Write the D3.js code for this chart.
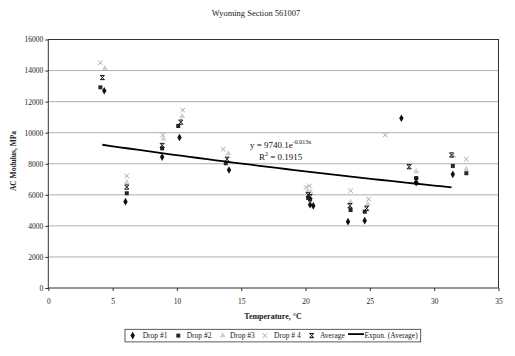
<!DOCTYPE html>
<html><head><meta charset="utf-8">
<script src="https://cdn.jsdelivr.net/npm/d3@7"></script>
<style>body{margin:0;background:#fff}svg{display:block}text{font-family:"Liberation Serif","Times New Roman",serif}</style>
</head><body><svg id="c" width="515" height="356"></svg>
<script>
// ---- data (temperature °C, modulus MPa) ----
const drop1T = [4.35, 6.0, 8.85, 10.2, 14.05, 20.35, 20.6, 23.3, 24.6, 27.45, 28.6, 31.45];
const drop1V = [12700, 5560, 8430, 9690, 7600, 5360, 5290, 4270, 4335, 10930, 6780, 7320];
const drop2T = [4.05, 6.1, 8.85, 10.1, 13.8, 20.2, 20.35, 23.5, 24.6, 28.6, 31.45, 32.5];
const drop2V = [12920, 6100, 8990, 10430, 8030, 5800, 5700, 5020, 4910, 7080, 7860, 7390];
const drop3T = [4.4, 6.1, 8.95, 10.4, 14.0, 20.15, 20.4, 23.5, 24.85, 28.6, 31.5, 32.5];
const drop3V = [14150, 6800, 9600, 11050, 8650, 6250, 6200, 5550, 5400, 7500, 8500, 7650];
const drop4T = [4.05, 6.1, 8.9, 10.45, 13.6, 20.05, 20.3, 23.5, 24.9, 26.2, 32.5];
const drop4V = [14500, 7220, 9850, 11450, 8930, 6480, 6570, 6265, 5720, 9850, 8290];
const avgT = [4.2, 6.1, 8.85, 10.3, 13.9, 20.2, 20.35, 23.45, 24.75, 28.05, 28.6, 31.35];
const avgV = [13550, 6500, 9180, 10680, 8290, 6000, 5880, 5300, 5130, 7810, 6950, 8565];
// exponential trend of Average: y = a * e^(b x)
const trendA = 9740.1, trendB = -0.013;
const xTicks = [0, 5, 10, 15, 20, 25, 30, 35];
const yTicks = [0, 2000, 4000, 6000, 8000, 10000, 12000, 14000, 16000];
const legendLabels = ["Drop #1", "Drop #2", "Drop #3", "Drop # 4", "Average", "Expon. (Average)"];
const titleText = "Wyoming Section 561007";

const svg = d3.select("#c");
const L = 48.3, R = 498.5, T = 39.5, B = 288;
const x = d3.scaleLinear().domain([0, 35]).range([L, R]);
const y = d3.scaleLinear().domain([0, 16000]).range([B, T]);

svg.append("text").attr("x", 256).attr("y", 16).attr("text-anchor", "middle")
  .attr("font-size", 8.5).attr("fill", "#222").text(titleText);

// gridlines
svg.append("g").selectAll("line").data(yTicks.slice(1)).join("line")
  .attr("x1", L).attr("x2", R).attr("y1", d => y(d)).attr("y2", d => y(d))
  .attr("stroke", "#9a9a9a").attr("stroke-width", 0.8);

// axes
const ya = svg.append("g").attr("transform", `translate(${L},0)`)
  .call(d3.axisLeft(y).tickValues(yTicks).tickFormat(d3.format("d")).tickSize(3).tickPadding(2));
const xa = svg.append("g").attr("transform", `translate(0,${B})`)
  .call(d3.axisBottom(x).tickValues(xTicks).tickFormat(d3.format("d")).tickSize(3).tickPadding(8));
[ya, xa].forEach(g => {
  g.select(".domain").remove();
  g.selectAll("line").attr("stroke", "#333");
  g.selectAll("text").attr("font-size", 7.5).attr("fill", "#222")
   .style("font-family", '"Liberation Serif",serif');
});
svg.append("rect").attr("x", L).attr("y", T).attr("width", R - L).attr("height", B - T)
  .attr("fill", "none").attr("stroke", "#333").attr("stroke-width", 1);

// axis titles
svg.append("text").attr("transform", "translate(16,161) rotate(-90)").attr("text-anchor", "middle")
  .attr("font-size", 7.5).attr("font-weight", "bold").attr("fill", "#222").text("AC Modulus, MPa");
svg.append("text").attr("x", 273).attr("y", 319).attr("text-anchor", "middle")
  .attr("font-size", 8).attr("font-weight", "bold").attr("fill", "#222").text("Temperature, °C");

// markers
const mk = {
  d1: g => g.append("path").attr("d", d3.symbol(d3.symbolDiamond, 17)()).attr("fill", "#111"),
  d2: g => g.append("path").attr("d", d3.symbol(d3.symbolSquare, 16)()).attr("fill", "#262626"),
  d3: g => g.append("path").attr("d", d3.symbol(d3.symbolTriangle, 15)()).attr("fill", "#cfcfcf"),
  d4: g => g.append("path").attr("d", "M-2.3,-2.3L2.3,2.3M-2.3,2.3L2.3,-2.3").attr("stroke", "#a8a8a8").attr("stroke-width", 1).attr("fill", "none"),
  avg: g => g.append("path").attr("d", "M-2.1,-2.1H2.1L-2.1,2.1H2.1Z").attr("stroke", "#111").attr("stroke-width", 1).attr("fill", "none")
};
function series(ts, vs, m) {
  const pts = ts.map((t, i) => [t, vs[i]]);
  svg.append("g").selectAll("g").data(pts).join("g")
    .attr("transform", d => `translate(${x(d[0])},${y(d[1])})`)
    .each(function () { mk[m](d3.select(this)); });
}
series(drop4T, drop4V, "d4");
series(drop3T, drop3V, "d3");
series(drop2T, drop2V, "d2");
series(drop1T, drop1V, "d1");
series(avgT, avgV, "avg");

// trendline
const ext = d3.extent(avgT);
const tp = d3.range(0, 41).map(i => ext[0] + (ext[1] - ext[0]) * i / 40);
svg.append("path").attr("d", d3.line().x(t => x(t)).y(t => y(trendA * Math.exp(trendB * t)))(tp))
  .attr("fill", "none").attr("stroke", "#000").attr("stroke-width", 1.8);

// equation
const eq = svg.append("text").attr("x", 250).attr("y", 148).attr("font-size", 9).attr("fill", "#111");
eq.append("tspan").text(`y = ${trendA}e`);
eq.append("tspan").attr("dy", -4).attr("font-size", 6).text(`${trendB}x`);
const r2 = svg.append("text").attr("x", 259).attr("y", 160).attr("font-size", 9).attr("fill", "#111");
r2.append("tspan").text("R");
r2.append("tspan").attr("dy", -4).attr("font-size", 6).text("2");
r2.append("tspan").attr("dy", 4).text(" = 0.1915");

// legend
const lg = svg.append("g");
lg.append("rect").attr("x", 125).attr("y", 329.3).attr("width", 295.7).attr("height", 12.6)
  .attr("fill", "#fff").attr("stroke", "#333").attr("stroke-width", 0.8);
const ly = 335.6;
const lmk = [["d1", 132.7, 142.7], ["d2", 178.3, 186.7], ["d3", 222.7, 230], ["d4", 265, 274], ["avg", 311.7, 320]];
lmk.forEach((m, i) => {
  mk[m[0]](lg.append("g").attr("transform", `translate(${m[1]},${ly})`));
  lg.append("text").attr("x", m[2]).attr("y", ly + 2.6).attr("font-size", 7.5).attr("fill", "#222").text(legendLabels[i]);
});
lg.append("line").attr("x1", 348).attr("x2", 364).attr("y1", ly - 1.5).attr("y2", ly - 1.5).attr("stroke", "#000").attr("stroke-width", 1.8);
lg.append("text").attr("x", 364.5).attr("y", ly + 2.6).attr("font-size", 7.5).attr("fill", "#222").text(legendLabels[5]);
</script></body></html>
